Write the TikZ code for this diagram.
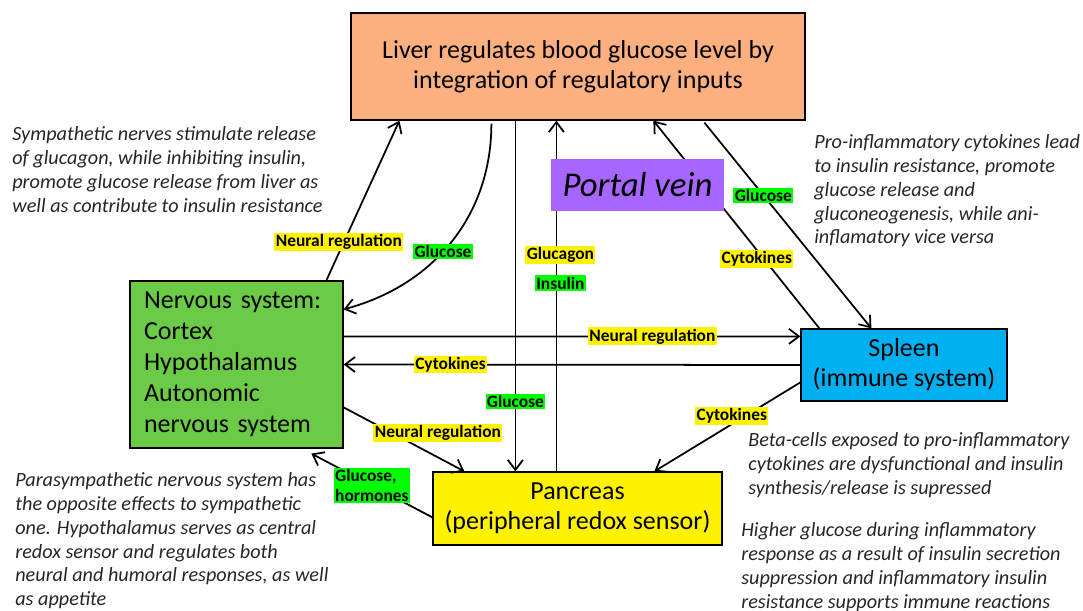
\documentclass[tikz,border=0pt]{standalone}
\usepackage{fontspec}
\setmainfont{Carlito}
\usepackage{tikz}
\usetikzlibrary{arrows.meta, positioning}

\definecolor{leber}{RGB}{252,176,128}
\definecolor{pfortader}{RGB}{166,102,255}
\definecolor{nerven}{RGB}{108,203,70}
\definecolor{milz}{RGB}{0,176,240}
\definecolor{hellgruen}{RGB}{0,255,0}
\definecolor{notizgrau}{RGB}{38,38,38}

\begin{document}
\begin{tikzpicture}[x=0.02cm, y=-0.02cm,
	>={Straight Barb[length=2mm,width=3mm]},
	box/.style={draw, rectangle, line width=0.7pt, inner sep=0, align=center, font=\fontsize{14.8}{17}\selectfont},
	pfeil/.style={->, line width=1pt},
	lab/.style={inner sep=0.8pt, align=left, font=\fontsize{9.9}{11.5}\selectfont\bfseries},
	gelb/.style={lab, fill=yellow},
	gruen/.style={lab, fill=hellgruen},
	notiz/.style={anchor=north west, inner sep=0, align=left, text=notizgrau, font=\fontsize{11.5}{13.6}\selectfont\itshape}]
		\useasboundingbox (0,0) rectangle (1083,611);
		
		% nodes
		\node[box, fill=leber, minimum width=9.08cm, minimum height=2.14cm] (leber) at (578,66.5)
		{Liver regulates blood glucose level by\\integration of regulatory inputs};
		
		\node[box, fill=nerven, minimum width=4.26cm, minimum height=3.34cm, align=left, text width=3.7cm, font=\fontsize{14.8}{17.6}\selectfont] (nerven) at (236.5,364.5)
		{Nervous system:\\Cortex\\Hypothalamus\\Autonomic\\nervous system};
		
		\node[box, fill=milz, minimum width=4.12cm, minimum height=1.44cm] (milz) at (904,365)
		{Spleen\\(immune system)};
		
		\node[box, fill=yellow, minimum width=5.78cm, minimum height=1.46cm] (pankreas) at (577.5,508.5)
		{Pancreas\\(peripheral redox sensor)};
		
		% connectors
		\draw[pfeil] ([xshift=3.94cm]nerven.north west) -- node[gelb, pos=0.24, xshift=-0.1cm] {Neural regulation} ([xshift=0.98cm]leber.south west);
		\draw[pfeil] ([xshift=2.82cm, yshift=-0.06cm]leber.south west) to[out=-90, in=15] node[gruen, pos=0.55] {Glucose} ([yshift=-0.58cm]nerven.north east);
		\draw[pfeil] ([xshift=3.3cm]leber.south west) -- node[gruen, pos=0.8] {Glucose} ([xshift=1.66cm]pankreas.north west);
		\draw[pfeil] ([xshift=2.48cm]pankreas.north west) -- node[gruen, pos=0.537, xshift=0.08cm] {Insulin} node[gelb, pos=0.616, xshift=0.08cm] {Glucagon} ([xshift=4.12cm]leber.south west);
		\draw[pfeil] ([xshift=0.38cm]milz.north west) -- node[gelb, pos=0.335, xshift=-0.14cm] {Cytokines} ([xshift=6.06cm]leber.south west);
		\draw[pfeil] ([xshift=7.08cm, yshift=-0.04cm]leber.south west) -- node[gruen, pos=0.353] {Glucose} ([xshift=1.42cm]milz.north west);
		\draw[pfeil] ([yshift=-1.12cm]nerven.north east) -- node[gelb, pos=0.676] {Neural regulation} ([yshift=-0.16cm]milz.north west);
		\draw[pfeil] (milz.west) -- node[gelb, pos=0.766] {Cytokines} (nerven.east);
		\draw[pfeil] ([yshift=-2.54cm]nerven.north east) -- node[gelb, pos=0.4, xshift=0.92cm] {Neural regulation} ([xshift=0.64cm]pankreas.north west);
		\draw[pfeil] ([yshift=-1.08cm]milz.north west) -- node[gelb, pos=0.47, yshift=0.16cm] {Cytokines} ([xshift=4.44cm]pankreas.north west);
		\draw[pfeil] ([yshift=-0.92cm]pankreas.north west) -- node[gruen, pos=0.5] {Glucose,\\hormones} ([xshift=3.64cm, yshift=-0.1cm]nerven.south west);
		
		% portal vein on top of the lines
		\node[fill=pfortader, minimum width=3.46cm, minimum height=1.06cm, inner sep=0, font=\fontsize{19.8}{22}\selectfont\itshape] (pfortader) at (637.5,185) {Portal vein};
		
		% notes
		\node[notiz] (sympathikus) at (12,126)
		{Sympathetic nerves stimulate release\\of glucagon, while inhibiting insulin,\\promote glucose release from liver as\\well as contribute to insulin resistance};
		\node[notiz] (zytokine) at (814,134)
		{Pro-inflammatory cytokines lead\\to insulin resistance, promote\\glucose release and\\gluconeogenesis, while ani-\\inflamatory vice versa};
		\node[notiz] (parasympathikus) at (15,472)
		{Parasympathetic nervous system has\\the opposite effects to sympathetic\\one. Hypothalamus serves as central\\redox sensor and regulates both\\neural and humoral responses, as well\\as appetite};
		\node[notiz] (betazellen) at (748,432)
		{Beta-cells exposed to pro-inflammatory\\cytokines are dysfunctional and insulin\\synthesis/release is supressed};
		\node[notiz] (entzuendung) at (741,522)
		{Higher glucose during inflammatory\\response as a result of insulin secretion\\suppression and inflammatory insulin\\resistance supports immune reactions};
\end{tikzpicture}
\end{document}
